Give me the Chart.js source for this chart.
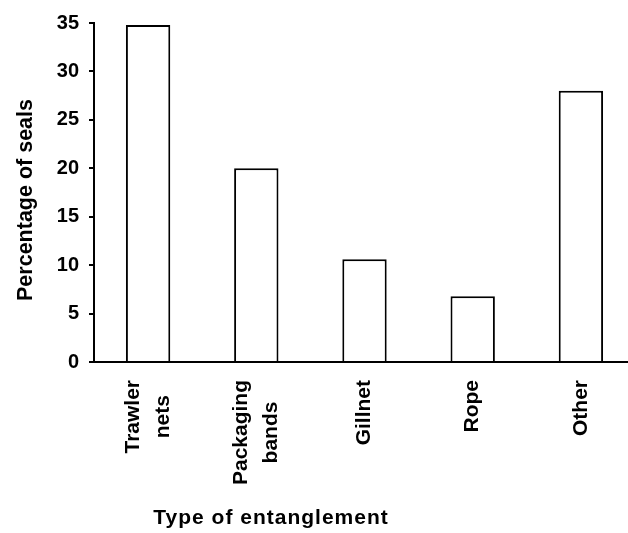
<!DOCTYPE html>
<html>
<head>
<meta charset="UTF-8">
<style>
body {
	margin: 0;
	overflow: hidden;
	background: white;
}

.wrap {
	width: 628px;
	height: 533px;
	overflow: hidden;
}
</style>
<title>Entanglement</title>
<script src="https://cdn.jsdelivr.net/npm/chart.js@4.4.0/dist/chart.umd.min.js"></script>
</head>

<body>
	<div class="wrap">
		<canvas id="myChart" width="640" height="533"></canvas>
	</div>

	<script>
		var categories = [ [ "Trawler", "nets" ], [ "Packaging", "bands" ], "Gillnet", "Rope", "Other" ];
		var percentSeals = [ 34.8, 20, 10.6, 6.8, 28 ];
		var yMin = 0;
		var yMax = 35;
		var yStep = 5;
		var xTitle = 'Type of entanglement';
		var yTitle = 'Percentage of seals';

		var fontFamily = '"Liberation Sans", Arial, sans-serif';

		// x labels and axis titles drawn by hand: centred lines, titles off-centre like the original
		var labelPlugin = {
			id : 'labels',
			afterDraw : function(chart) {
				var ctx = chart.ctx;
				var xs = chart.scales.x;
				var top = chart.chartArea.bottom + 18;
				ctx.save();
				ctx.font = 'bold 21px ' + fontFamily;
				ctx.fillStyle = '#000';
				ctx.textBaseline = 'middle';
				ctx.textAlign = 'center';
				for (var i = 0; i < categories.length; i++) {
					var lines = [].concat(categories[i]);
					var maxW = 0;
					lines.forEach(function(l) {
						maxW = Math.max(maxW, ctx.measureText(l).width);
					});
					var x = xs.getPixelForValue(i);
					ctx.save();
					ctx.translate(x, top + maxW / 2);
					ctx.rotate(-Math.PI / 2);
					for (var j = 0; j < lines.length; j++) {
						ctx.fillText(lines[j], 0, (j - (lines.length - 1) / 2) * 30);
					}
					ctx.restore();
				}

				// x title
				ctx.letterSpacing = '1px';
				ctx.fillText(xTitle, 271, 518);

				// y title
				ctx.letterSpacing = '0px';
				ctx.font = 'bold 21.5px ' + fontFamily;
				ctx.translate(26, 200);
				ctx.rotate(-Math.PI / 2);
				ctx.fillText(yTitle, 0, 0);
				ctx.restore();
			}
		};

		var ctx = document.getElementById("myChart");
		var myChart = new Chart(ctx, {
			type : 'bar',
			data : {
				labels : categories,
				datasets : [ {
					data : percentSeals,
					backgroundColor : '#ffffff',
					borderColor : '#000000',
					borderWidth : 2,
					barPercentage : 0.41,
					categoryPercentage : 1
				} ]
			},
			options : {
				responsive : false,
				animation : false,
				layout : {
					padding : {
						top : 23,
						right : 5,
						left : 0,
						bottom : 0
					}
				},
				plugins : {
					legend : {
						display : false
					},
					tooltip : {
						enabled : false
					}
				},
				scales : {
					x : {
						afterFit : function(scale) {
							scale.height = 171;
						},
						grid : {
							display : false
						},
						border : {
							display : true,
							color : '#000',
							width : 2
						},
						ticks : {
							display : false
						}
					},
					y : {
						min : yMin,
						max : yMax,
						afterFit : function(scale) {
							scale.width = 94;
						},
						grid : {
							drawOnChartArea : false,
							drawTicks : true,
							tickLength : 5,
							color : '#000',
							lineWidth : 2
						},
						border : {
							display : true,
							color : '#000',
							width : 2
						},
						ticks : {
							stepSize : yStep,
							padding : 10,
							color : '#000',
							font : {
								family : fontFamily,
								size : 20,
								weight : 'bold'
							}
						}
					}
				}
			},
			plugins : [ labelPlugin ]
		});
	</script>

</body>
</html>
